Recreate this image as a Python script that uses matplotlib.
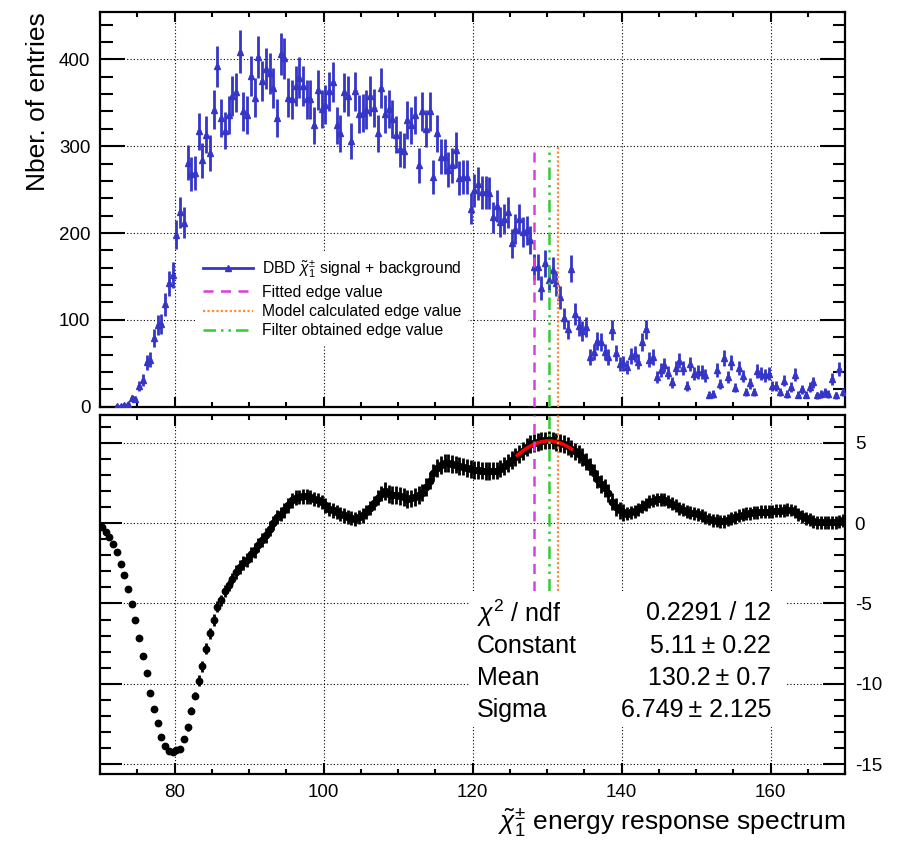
import numpy as np
import matplotlib.pyplot as plt
from matplotlib.lines import Line2D
from matplotlib.patches import Rectangle
from matplotlib.ticker import MultipleLocator

plt.rcParams['font.family'] = ['Liberation Sans', 'DejaVu Sans']
plt.rcParams['mathtext.fontset'] = 'custom'
plt.rcParams['mathtext.rm'] = 'Liberation Sans'
plt.rcParams['mathtext.it'] = 'Liberation Sans:italic'
plt.rcParams['axes.unicode_minus'] = False

# binning of both histograms
x_lo, x_hi, n_bins = 70.0, 170.0, 200

# top panel: DBD chargino signal + background (entries per bin)
counts = [
    0, 0, 0, 0, 1, 1, 2, 3, 10, 9,
    24, 31, 51, 54, 79, 94, 95, 118, 142, 152,
    198, 224, 212, 281, 268, 269, 317, 284, 313, 292,
    342, 392, 333, 318, 336, 358, 362, 409, 340, 336,
    381, 356, 403, 375, 389, 384, 367, 332, 406, 401,
    356, 354, 369, 379, 369, 354, 354, 324, 365, 343,
    348, 363, 374, 324, 315, 362, 358, 306, 363, 337,
    338, 342, 358, 344, 315, 367, 337, 343, 331, 313,
    297, 295, 330, 324, 336, 278, 340, 320, 340, 265,
    315, 288, 288, 273, 278, 296, 263, 265, 265, 228,
    249, 257, 247, 247, 246, 218, 231, 213, 216, 224,
    188, 205, 216, 201, 203, 192, 161, 161, 137, 165,
    146, 157, 142, 126, 102, 89, 159, 107, 93, 87,
    92, 57, 63, 76, 75, 63, 57, 88, 62, 49,
    50, 46, 58, 61, 52, 75, 89, 54, 57, 34,
    42, 48, 39, 28, 45, 53, 45, 24, 49, 38,
    40, 40, 36, 14, 15, 42, 26, 56, 34, 51,
    22, 45, 35, 17, 27, 17, 41, 38, 36, 38,
    24, 24, 17, 30, 15, 23, 37, 14, 20, 14,
    23, 28, 13, 15, 17, 15, 32, 13, 43, 17,
]
# weighted events: error = sqrt(sum w^2) = sqrt(counts * w)
event_weight = 1.44

# bottom panel: filter output
filt = [
    -0.25, -0.56, -0.87, -1.33, -1.80, -2.53, -3.22, -4.09, -5.06, -6.00,
    -7.14, -8.28, -9.34, -10.54, -11.56, -12.45, -13.32, -13.84, -14.19, -14.25,
    -14.11, -14.05, -13.42, -12.70, -11.66, -10.73, -9.79, -8.90, -7.82, -6.85,
    -6.02, -5.19, -4.81, -4.23, -3.88, -3.46, -3.05, -2.74, -2.49, -2.28,
    -1.95, -1.70, -1.35, -1.04, -0.77, -0.35, 0.00, 0.37, 0.58, 0.79,
    1.10, 1.41, 1.58, 1.62, 1.66, 1.66, 1.62, 1.51, 1.45, 1.31,
    1.10, 0.89, 0.79, 0.68, 0.58, 0.48, 0.37, 0.33, 0.27, 0.37,
    0.48, 0.68, 0.95, 1.24, 1.58, 1.83, 1.99, 1.82, 1.76, 1.76,
    1.69, 1.61, 1.49, 1.53, 1.61, 1.74, 1.90, 2.23, 2.64, 3.14,
    3.41, 3.62, 3.72, 3.72, 3.68, 3.64, 3.57, 3.51, 3.41, 3.35,
    3.31, 3.31, 3.26, 3.24, 3.22, 3.26, 3.26, 3.39, 3.55, 3.72,
    3.93, 4.13, 4.30, 4.50, 4.71, 4.90, 5.00, 5.06, 5.12, 5.14,
    5.17, 5.14, 5.06, 5.00, 4.90, 4.79, 4.63, 4.46, 4.30, 4.09,
    3.82, 3.51, 3.14, 2.73, 2.44, 2.17, 1.86, 1.34, 0.99, 0.79,
    0.66, 0.58, 0.66, 0.74, 0.87, 1.03, 1.18, 1.32, 1.40, 1.49,
    1.49, 1.45, 1.34, 1.20, 1.07, 0.93, 0.83, 0.72, 0.64, 0.60,
    0.54, 0.45, 0.33, 0.25, 0.17, 0.14, 0.10, 0.12, 0.19, 0.27,
    0.37, 0.45, 0.52, 0.58, 0.62, 0.66, 0.66, 0.70, 0.70, 0.72,
    0.74, 0.76, 0.76, 0.79, 0.83, 0.81, 0.70, 0.54, 0.41, 0.31,
    0.21, 0.12, 0.06, 0.04, 0.04, 0.04, 0.04, 0.04, 0.08, 0.17,
]
filt_err = [0.05]*18 + [0.2]*8 + [0.35]*10 + [0.45]*40 + [0.55]*65 + [0.4]*59

# edge values (vertical lines)
edge_fitted = 128.3
edge_model = 131.5
edge_filter = 130.2

# gaussian fit on the filter output
fit_const, fit_mean, fit_sigma = 5.11, 130.2, 6.749
fit_lo, fit_hi = 126.0, 133.3

stat_names = [r'$\chi^2$ / ndf', 'Constant', 'Mean', 'Sigma']
stat_values = ['0.2291 / 12', '5.11\u2009\u00b1 0.22', '130.2\u2009\u00b1 0.7', '6.749\u2009\u00b1 2.125']

blue = '#3535c8'
magenta = '#d93fd9'
orange = '#ff8a3a'
green = '#33cc33'

edges = np.linspace(x_lo, x_hi, n_bins + 1)
centers = 0.5 * (edges[:-1] + edges[1:])
half_w = 0.5 * (edges[1] - edges[0])
counts = np.array(counts, dtype=float)
filt = np.array(filt)
filt_err = np.array(filt_err)

fig = plt.figure(figsize=(8.98, 8.43), dpi=100)
ax1 = fig.add_axes([0.1114, 0.5176, 0.8296, 0.4676])
ax2 = fig.add_axes([0.1114, 0.0819, 0.8296, 0.4258])

# ---- top panel
nz = counts > 0
ax1.errorbar(centers[nz], counts[nz], yerr=np.sqrt(counts[nz] * event_weight), xerr=half_w,
             fmt='^', color=blue, ms=4.2, elinewidth=2.0, capsize=0, zorder=3)
ax1.vlines(edge_fitted, 0, 300, color=magenta, lw=1.8, ls=(0, (4, 3)), zorder=4)
ax1.vlines(edge_model, 0, 300, color=orange, lw=1.6, ls=(0, (1, 1)), zorder=4)
ax1.vlines(edge_filter, 0, 300, color=green, lw=1.8, ls=(0, (5, 2, 1, 2, 1, 2)), zorder=4)
ax1.set_xlim(x_lo, x_hi)
ax1.set_ylim(0, 454)
ax1.xaxis.set_major_locator(MultipleLocator(20))
ax1.xaxis.set_minor_locator(MultipleLocator(5))
ax1.yaxis.set_major_locator(MultipleLocator(100))
ax1.yaxis.set_minor_locator(MultipleLocator(20))
ax1.tick_params(axis='y', which='major', direction='in', length=18, width=1.5,
                left=True, right=True, labelsize=13.5, pad=7)
ax1.tick_params(axis='y', which='minor', direction='in', length=9, width=1.5,
                left=True, right=True)
ax1.tick_params(axis='x', which='major', direction='in', length=7.5, width=1.5,
                top=True, bottom=True, labelbottom=False)
ax1.tick_params(axis='x', which='minor', direction='in', length=3.5, width=1.5,
                top=True, bottom=True)
ax1.grid(True, which='major', ls=(0, (1, 2)), color='black', lw=0.8)
ax1.set_ylabel('Nber. of entries', fontsize=19, loc='top', labelpad=6)

handles = [
    Line2D([], [], color=blue, lw=2, marker='^', ms=4),
    Line2D([], [], color=magenta, lw=1.8, ls=(0, (4, 3))),
    Line2D([], [], color=orange, lw=1.6, ls=(0, (1, 1))),
    Line2D([], [], color=green, lw=1.8, ls=(0, (5, 2, 1, 2, 1, 2))),
]
labels = [r'DBD $\tilde{\chi}_1^{\pm}$ signal + background', 'Fitted edge value',
          'Model calculated edge value', 'Filter obtained edge value']
leg = ax1.legend(handles, labels, loc='upper left', bbox_to_anchor=(0.13, 0.392),
                 fontsize=11.3, frameon=True, facecolor='white', edgecolor='none',
                 framealpha=1, fancybox=False, handlelength=3.2, handletextpad=0.55,
                 labelspacing=0.28, borderpad=0.4, borderaxespad=0)
leg.set_zorder(5)

# ---- bottom panel
ax2.errorbar(centers, filt, yerr=filt_err, xerr=half_w, fmt='o', color='black',
             ms=4.6, elinewidth=2.0, capsize=0, zorder=3)
xf = np.linspace(fit_lo, fit_hi, 100)
ax2.plot(xf, fit_const * np.exp(-0.5 * ((xf - fit_mean) / fit_sigma) ** 2),
         color='red', lw=2.5, zorder=4)
ylo2, yhi2 = -15.6, 6.72
line_lo = -4.2
ax2.vlines(edge_fitted, line_lo, yhi2, color=magenta, lw=1.8, ls=(0, (4, 3)), zorder=4)
ax2.vlines(edge_model, line_lo, yhi2, color=orange, lw=1.6, ls=(0, (1, 1)), zorder=4)
ax2.vlines(edge_filter, line_lo, yhi2, color=green, lw=1.8, ls=(0, (5, 2, 1, 2, 1, 2)), zorder=4)
ax2.set_xlim(x_lo, x_hi)
ax2.set_ylim(ylo2, yhi2)
ax2.xaxis.set_major_locator(MultipleLocator(20))
ax2.xaxis.set_minor_locator(MultipleLocator(5))
ax2.yaxis.set_major_locator(MultipleLocator(5))
ax2.yaxis.set_minor_locator(MultipleLocator(1))
ax2.tick_params(axis='y', which='major', direction='in', length=15.5, width=1.5,
                left=True, right=True, labelleft=False, labelright=True,
                labelsize=13.5, pad=7)
ax2.tick_params(axis='y', which='minor', direction='in', length=8, width=1.5,
                left=True, right=True)
ax2.tick_params(axis='x', which='major', direction='in', length=8, width=1.5,
                top=True, bottom=True, labelsize=13.5, pad=7)
ax2.tick_params(axis='x', which='minor', direction='in', length=3.8, width=1.5,
                top=True, bottom=True)
ax2.grid(True, which='major', ls=(0, (1, 2)), color='black', lw=0.8)
ax2.set_xlabel(r'$\tilde{\chi}_1^{\pm}$ energy response spectrum', fontsize=19,
               loc='right', labelpad=4)

# stats box
ax2.add_patch(Rectangle((0.497, 0.131), 0.425, 0.379, transform=ax2.transAxes,
                        facecolor='white', edgecolor='none', zorder=6))
row_y = [0.4485, 0.3565, 0.2674, 0.1783]
for name, val, yy in zip(stat_names, stat_values, row_y):
    ax2.text(0.506, yy, name, transform=ax2.transAxes, fontsize=18,
             ha='left', va='center', zorder=7)
    ax2.text(0.9007, yy, val, transform=ax2.transAxes, fontsize=18,
             ha='right', va='center', zorder=7)

for ax in (ax1, ax2):
    for sp in ax.spines.values():
        sp.set_linewidth(1.6)

fig.savefig('out.png', dpi=100)
